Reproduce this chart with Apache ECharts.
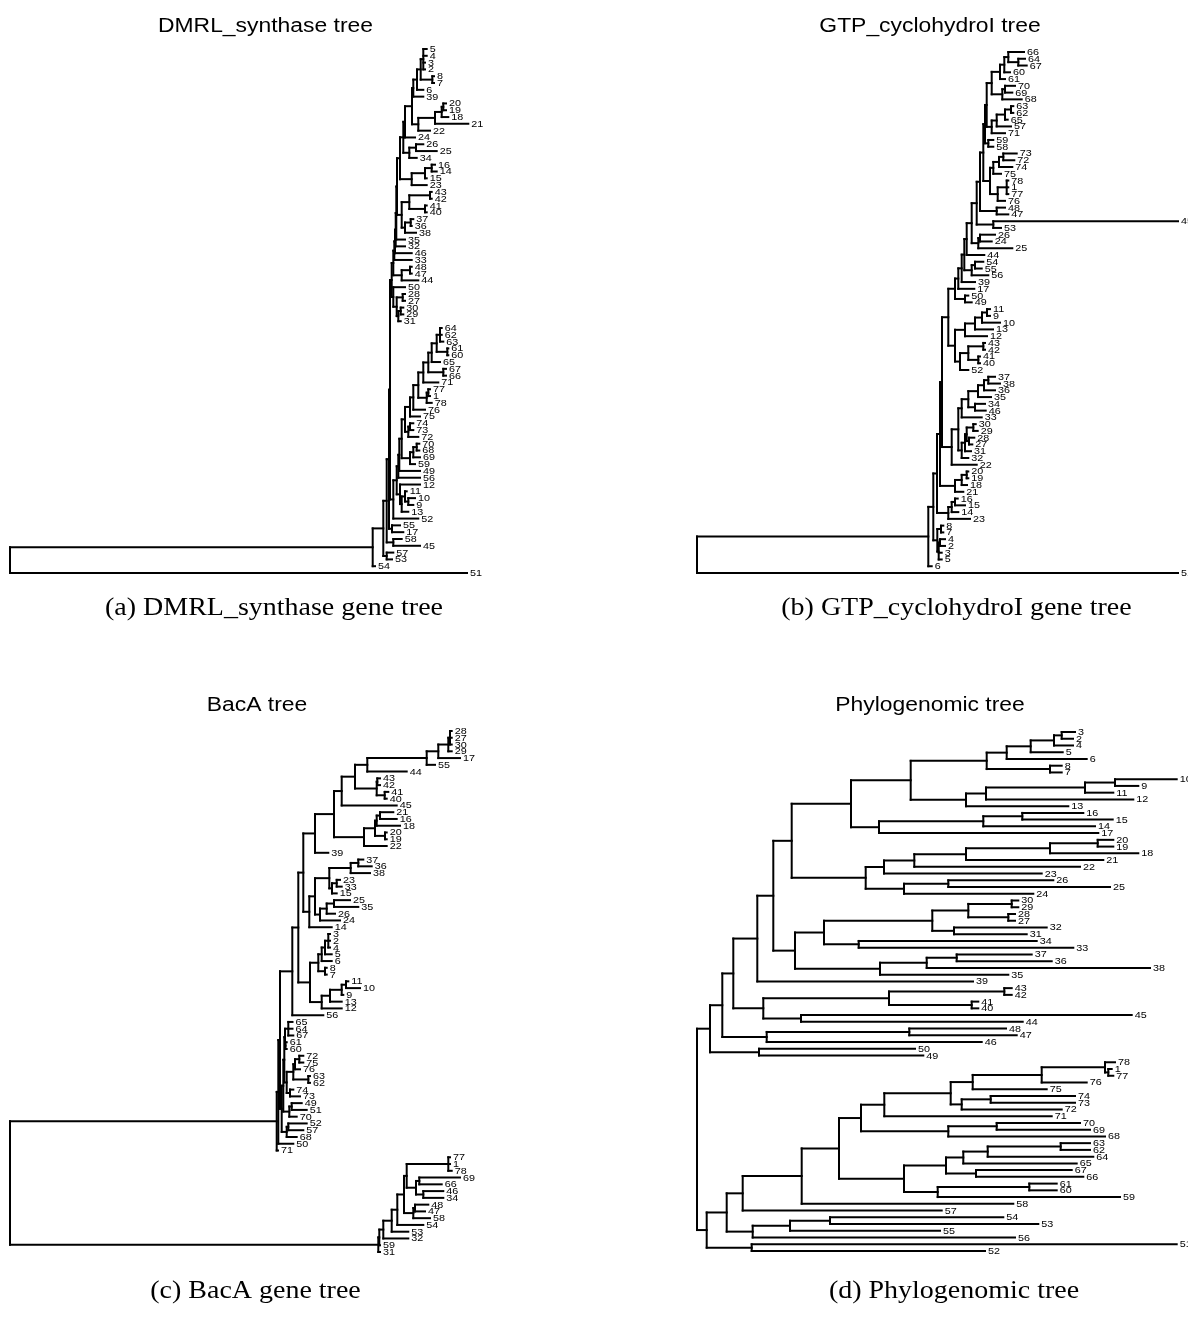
<!DOCTYPE html>
<html>
<head>
<meta charset="utf-8">
<script src="https://cdn.jsdelivr.net/npm/echarts@6/dist/echarts.min.js"></script>
<style>
html,body{margin:0;padding:0;background:#fff;}
#chart{width:1188px;height:1330px;}
</style>
</head>
<body>
<div id="chart"></div>
<script>
// ---------------- DATA ----------------
// Trees in Newick form; the number after ':' is the node depth (distance from the root, in branch-length units).
const TITLES = ['DMRL_synthase tree', 'GTP_cyclohydroI tree', 'BacA tree', 'Phylogenomic tree'];
const CAPTIONS = ['(a) DMRL_synthase gene tree', '(b) GTP_cyclohydroI gene tree', '(c) BacA gene tree', '(d) Phylogenomic tree'];

// (a) DMRL_synthase
const aN4 = "((((5:416.7,4:416.7,3:415,2:415):413.3,(8:424,7:424):422.3):410.7,6:413.3):407,39:413.3):403.3";
const aN5 = "((((20:436,19:436):433.3,18:438.3):431.7,21:458.3):425,22:420):408.3";
const aT10 = "((26:413.3,25:426.7):406,34:406.7):399.3";
const aT11 = "(((16:425,14:426.7):421.7,15:416.7):415,23:416.7):401.7";
const aT8 = "(((43:421.7,42:421.7):420,(41:416.7,40:416.7):415):399.3,((37:403.3,36:401.7):400.7,38:406):395):391.7";
const aG48 = "((48:401.7,47:401.7):400,44:408.3):391.7";
const aTb = "(50:395,((28:395,27:395):392.7,((30:393.3,29:393.3):390.7,31:390.7):388.3):386.7):383.3";
const aTop = `(((((((((((${aN4},${aN5}):402,24:405):395,${aT10}):393.3,${aT11}):390,${aT8}):387,35:395):386.3,32:395):385.7,46:401.7):385,33:401.7):384.3,${aG48}):383.3,${aTb}):381.7`;
const aB13 = "((64:431.7,62:431.7,63:433.3):430,(61:438.3,60:438.3):437.3):426.7";
const aB6 = "(((70:409.3,68:409.3):406.7,69:410):403.3,59:405):400";
const aB12 = "(12:410,((11:396.7,(10:405,9:403.3):398.3):395,13:398.3):391.7):390";
const aBot = `((((((((((((${aB13},65:430):421.7,(67:436,66:436):433.3):418.3,71:428.3):413.3,((77:420,1:420):418.3,78:421.7):416.7):408.3,76:415):403.3,75:410):400,((74:403.3,73:403.3):400,72:408.3):398.3):395,${aB6}):391.7,49:410):389.3,56:410):388.3,${aB12}):386.7,52:408.3):383.3`;
const TREE_A = `((((((${aTop},${aBot}):380,(55:390,17:393.3):382):379,(58:391.7,45:410):383.3):376.7,(57:383.3,53:382):376.7):373.3,54:365):362.7,51:457):0`;

// (b) GTP_cyclohydroI
const bBot = "((8:246.3,7:246.3):244,((4:248,2:248):243,3:244.7,5:244.7):241.7):240.3";
const bG20 = "(((20:271.3,19:271.3):269.7,18:270):264.7,21:266.3):258";
const bG16 = "(((16:260.7,15:268):258,14:261.3):254.7,23:273):251.3";
const bG33 = "(((((37:298,38:303):291.3,36:298):287,35:294):281,(34:288,46:288.7):278):271.3,33:284.7):264.7";
const bG30 = "((((30:278.7,29:280.7):276.3,(28:277.3,27:275.3):272):269.7,31:274):268,32:271.3):264.7";
const bG37 = `((${bG33},${bG30}):261.3,22:279.7):254.7`;
const bG11 = "(((((11:293,9:293):290,10:303):285,13:296):278,12:290):268,(((43:288,42:288):286.3,(41:283,40:283):281.3):271.3,52:271.3):263):258";
const bU1b = "((((66:327,(64:328,67:329.7):321.3):311.3,60:313):307.3,61:308):303,((70:318,69:315.3):308,68:324.7):305.3):294.7";
const bU1c = "((((63:316.3,62:316.3):314,65:310.7):308,57:314):299.7,71:308):294.7";
const bU2 = "((((73:319.7,72:317.3):306.3,74:315.3):302,75:304):296.3,((78:311.3,1:311.3,77:311.3):309.7,76:308):300.7):293";
const TREE_B = `((((((((((((((((((${bU1b},${bU1c}):289.7,(59:296.3,58:296.3):291.3):288,${bU2}):286.3,(48:308,47:311.3):299.7):283,(45:481,53:304):296.3):279.7,((26:298,24:294.7):283,25:315.3):281.3):274.7,44:287.3):269.7,((54:286.3,55:284.7):278,56:291.3):274.7):267.3,39:278):264.7,17:277.3):261.3,(50:271.3,49:274.7):268):258,${bG11}):251.3,${bG37}):245,${bG20}):243,${bG16}):240,${bBot}):236.3,6:234.7):231.3,51:481):0`;

// (c) BacA
const cT17 = "(((((28:441.7,27:441.7,30:441.7):440,29:441.7):438.3,17:450):428.3,55:425):416.7,44:396.7):357.3";
const cT18 = "((43:370,42:370):367.3,(41:378.3,40:376.7):374.7):366.7";
const cT15 = "((((21:383.3,16:386.7):370,18:390):366.7,(20:376.7,19:376.7):375):365,22:376.7):354";
const cT20 = "(((37:353.3,36:361.7):348.3,38:360):340.7,((23:330,33:331.7):326.7,15:326.7):322):319.3";
const cT21 = "(((25:340,35:348.3):324,26:325):316.7,24:330):310";
const cT7 = "((((3:320,2:320,4:320):318.3,5:321.7):315,6:321.7):311.7,(8:316.7,7:316.7):315):308.3";
const cX = "((((11:338.3,10:350):336,9:333.3):331.7,13:331.7):320,12:331.7):311.7";
const cT3d = "((65:282.5,64:282.5,67:283.3):278.3,(61:276.7,60:276.7):275.5):275";
const cT3e = "((((72:293.3,75:293.3):289.3,76:290):285,(63:300,62:300):298.3):283.3,(74:283.3,73:290):280):276.7";
const cCT11 = `((((${cT17},${cT18}):345,45:386.7):331.7,${cT15}):324,39:318.3):305`;
const cCT12 = `((${cT20},${cT21}):305,14:321.7):299.3`;
const cCT10 = `(${cT7},${cX}):300`;
const cCT4 = `(((${cCT11},${cCT12}):293.3,${cCT10}):288.3,56:313.3):282.3`;
const cTop = `(((${cCT4},(((${cT3d},${cT3e}):274.3,((49:291.7,51:296.7):281.7,70:286.7):279.3):273.3,((52:296.7,57:293.3):278.3,68:286.7):276.7):271.7):270,50:283.3):268.3,71:268):266.7`;
const cBot = "((((((((77:440,1:440,78:441.7):438.3,((69:450,66:431.7):409.3,(46:433.3,34:433.3):413.3):406):396.7,((48:418.3,47:415):405,58:420):403.3):394,54:413.3):387.3,53:398.3):381.7,32:398.3):373.3,59:370):369.3,31:370):368.3";
const TREE_C = `(${cTop},${cBot}):0`;

// (d) Phylogenomic
const dTa = "(((((3:378,2:376):364.7,4:376):357,5:365.7):333.7,6:389.7):309.7,(8:364.7,7:364.7):353):289.7";
const dTb = "((((10:479.7,9:441.3):418,11:416.3):388,12:436.3):289,13:371.3):269";
const dT16 = "(((16:386.3,15:415.7):325.3,14:398):286.3,17:401.3):182";
const dT19 = "(((((20:416.3,19:416.3):400.7,18:441.3):353,21:406.3):269,22:383):217.3,23:344.7):187";
const dT23 = "((26:356.3,25:413):251.3,24:336.3):207";
const dT25 = "((((30:321.3,29:321.3):314.7,(28:318,27:318):311.3):271.3,(32:349.7,31:329.7):257):235.3,(34:339.7,33:376.3):161.7):127";
const dT28 = "(((37:334.7,36:354.7):259.7,38:453):229.7,35:311.3):183";
const dT30 = "(((43:314.7,42:314.7):307.3,(41:281.3,40:281.3):274.7):192,(45:434.7,44:325.7):104):66.3";
const dT32 = "((48:309,47:319.7):212.3,46:284.7):69.7";
const dT6 = `(((${dTa},${dTb}):213.7,${dT16}):154,(${dT19},${dT23}):168.7):94.7`;
const dT4 = `((${dT6},(${dT25},${dT28}):98):76.3,39:276):60.3`;
const dT1 = `(((${dT4},${dT30}):36.3,${dT32}):25.3,(50:218,49:226.3):62):13`;
const dB9 = "(((78:418,(1:414.7,77:416.3):411.3):408,76:389.7):344.7,75:349.7):275.7";
const dB12 = "((74:378,73:378):293.7,72:364.7):264.7";
const dB13 = "((70:383,69:393):299.7,68:408):251.3";
const dB15 = "((((63:393,62:393):363.7,64:396.3):290.7,65:379.7):266.3,(67:374.7,66:386.3):279):249";
const dB18 = "((61:359.7,60:359.7):332.3,59:423):240.7";
const dB19 = "(((54:306.3,53:341.3):133,55:243):93,56:318):55.7";
const dB6 = `(((${dB9},${dB12}):253.7,71:354.7):187.3,${dB13}):164`;
const dB3 = `(((${dB6},(${dB15},${dB18}):207):142,58:316.3):104.7,57:244.7):45.7`;
const dB1 = `((${dB3},${dB19}):29.7,(51:479.7,52:288):54.7):9.7`;
const TREE_D = `(${dT1},${dB1}):0`;

const TREES = [TREE_A, TREE_B, TREE_C, TREE_D];

// ---------------- LAYOUT ----------------
const PANELS = [
  {left: 10,  top: 49,  width: 470, height: 524, xmax: 470},
  {left: 697, top: 52,  width: 491, height: 521, xmax: 491},
  {left: 10,  top: 731, width: 470, height: 521, xmax: 470},
  {left: 697, top: 732, width: 491, height: 519, xmax: 491}
];

function parseTree(str) {
  let i = 0;
  function node() {
    const n = {children: []};
    if (str[i] === '(') {
      i++;
      n.children.push(node());
      while (str[i] === ',') { i++; n.children.push(node()); }
      if (str[i] !== ')') throw new Error('expected ) at ' + i + ' got ' + str[i]);
      i++;
    } else {
      const s = i;
      while (i < str.length && ':,()'.indexOf(str[i]) < 0) i++;
      n.name = str.slice(s, i);
    }
    if (str[i] === ':') {
      i++;
      const s = i;
      while (i < str.length && ',()'.indexOf(str[i]) < 0) i++;
      n.depth = parseFloat(str.slice(s, i));
    }
    return n;
  }
  const root = node();
  if (i !== str.length) throw new Error('trailing text at ' + i);
  return root;
}

// phylogram layout: tips evenly spaced, internal node at mean of its children
function layout(root) {
  const segs = [], tips = [];
  let k = 0;
  (function walk(n, pd) {
    if (!n.children.length) {
      n.y = k++;
      tips.push({x: n.depth, y: n.y, name: n.name});
    } else {
      n.children.forEach(c => walk(c, n.depth));
      const f = n.children[0], l = n.children[n.children.length - 1];
      n.y = n.children.reduce((s, c) => s + c.y, 0) / n.children.length;
      segs.push([n.depth, f.y, n.depth, l.y]);
    }
    if (pd != null) segs.push([pd, n.y, n.depth, n.y]);
  })(root, null);
  return {segs, tips, count: k};
}

const problems = [];
const laid = TREES.map((t, ti) => {
  const L = layout(parseTree(t));
  const names = new Set(L.tips.map(d => d.name));
  if (L.count !== 78 || names.size !== 78) problems.push('tree ' + ti + ': ' + L.count + ' leaves, ' + names.size + ' unique');
  return L;
});

const grids = [], xAxes = [], yAxes = [], series = [];
laid.forEach((L, k) => {
  const P = PANELS[k];
  grids.push({left: P.left, top: P.top, width: P.width, height: P.height, containLabel: false});
  xAxes.push({type: 'value', gridIndex: k, min: 0, max: P.xmax, show: false});
  yAxes.push({type: 'value', gridIndex: k, min: 0, max: L.count - 1, inverse: true, show: false});
  series.push({
    type: 'custom', xAxisIndex: k, yAxisIndex: k, clip: false, silent: true,
    encode: {x: [0, 2], y: [1, 3]},
    data: L.segs,
    renderItem: function (params, api) {
      const a = api.coord([api.value(0), api.value(1)]);
      const b = api.coord([api.value(2), api.value(3)]);
      return {type: 'line', shape: {x1: a[0], y1: a[1], x2: b[0], y2: b[1]},
        style: {stroke: '#000', lineWidth: 2, lineCap: 'square'}};
    }
  });
  const tipNames = L.tips.map(d => d.name);
  series.push({
    type: 'custom', xAxisIndex: k, yAxisIndex: k, clip: false, silent: true,
    encode: {x: 0, y: 1},
    data: L.tips.map((d, i) => [d.x, d.y, i]),
    renderItem: function (params, api) {
      const p = api.coord([api.value(0), api.value(1)]);
      return {type: 'text', x: p[0] + 3, y: p[1] + 0.5, scaleX: 1.2,
        style: {text: tipNames[api.value(2)], fill: '#000', fontSize: 9,
          fontFamily: '"Liberation Sans", Arial, sans-serif', align: 'left', verticalAlign: 'middle'}};
    }
  });
});

// text width helper for matching the reference's text widths
const mctx = document.createElement('canvas').getContext('2d');
function textWidth(txt, font) { mctx.font = font; return mctx.measureText(txt).width; }
const TITLE_FONT = '20px "Liberation Sans"';
const CAP_FONT = '25px "Liberation Serif"';
const titleScale = 215 / textWidth(TITLES[0], TITLE_FONT);
const capScale = 338 / textWidth(CAPTIONS[0], CAP_FONT);

const titlePos = [[265.5, 26], [930, 26], [257, 705], [930, 705]];
const capPos = [[274, 608], [956.5, 608], [255.5, 1291], [954, 1291]];
const graphics = [];
TITLES.forEach((t, k) => graphics.push({type: 'text', x: titlePos[k][0], y: titlePos[k][1], scaleX: titleScale,
  style: {text: t, fill: '#000', fontSize: 20, fontFamily: '"Liberation Sans", Arial, sans-serif', align: 'center', verticalAlign: 'middle'}}));
CAPTIONS.forEach((t, k) => graphics.push({type: 'text', x: capPos[k][0], y: capPos[k][1], scaleX: capScale,
  style: {text: t, fill: '#000', fontSize: 25, fontFamily: '"Liberation Serif", "Times New Roman", serif', align: 'center', verticalAlign: 'middle'}}));

const chart = echarts.init(document.getElementById('chart'), null, {renderer: 'canvas'});
chart.setOption({
  animation: false,
  backgroundColor: '#fff',
  grid: grids, xAxis: xAxes, yAxis: yAxes, series: series,
  graphic: graphics
});
if (problems.length) setTimeout(() => { throw new Error(problems.join('; ')); }, 0);
</script>
</body>
</html>
